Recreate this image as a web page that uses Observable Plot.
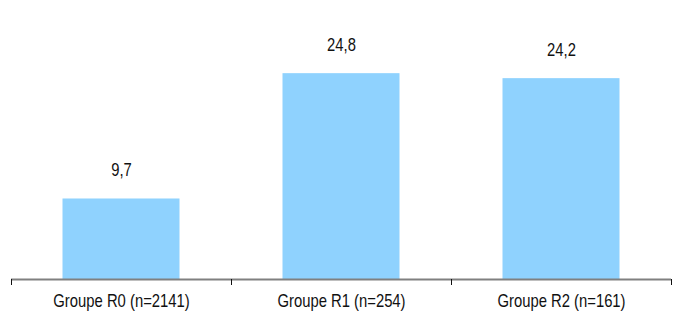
<!DOCTYPE html>
<html>
<head>
<meta charset="utf-8">
<script src="https://cdn.jsdelivr.net/npm/d3@7"></script>
<script src="https://cdn.jsdelivr.net/npm/@observablehq/plot@0.6"></script>
<style>
  html, body { margin: 0; padding: 0; background: #fff; }
  #chart svg { display: block; }
</style>
</head>
<body>
<div id="chart"></div>
<script>
const categories = ["Groupe R0 (n=2141)", "Groupe R1 (n=254)", "Groupe R2 (n=161)"];
const values = [9.7, 24.8, 24.2];
const valueLabels = ["9,7", "24,8", "24,2"];

const data = categories.map((c, i) => ({cat: c, value: values[i], label: valueLabels[i]}));

const W = 678, H = 313;
const mL = 11, mR = 7, mT = 30, mB = 34;
const half = (W - mL - mR) / categories.length / 2;
const barInset = (half * 2 - 117) / 2;
const font = "'Liberation Sans', Arial, sans-serif";

const chart = Plot.plot({
  width: W,
  height: H,
  marginLeft: mL,
  marginRight: mR,
  marginTop: mT,
  marginBottom: mB,
  style: {fontFamily: font, fontSize: "19px", color: "#111", background: "#fff"},
  x: {type: "band", domain: categories, padding: 0, label: null},
  y: {domain: [0, 30], axis: null},
  marks: [
    Plot.barY(data, {x: "cat", y: "value", fill: "#8fd2fe", insetLeft: barInset, insetRight: barInset}),
    Plot.text(data, {x: "cat", y: "value", text: "label", dy: -29, fill: "#111", fontSize: 19}),
    Plot.ruleY([0], {stroke: "#808080", strokeWidth: 2}),
    Plot.axisX({ticks: categories, tickSize: 6, text: null, dx: -half, stroke: "#111", strokeOpacity: 1, label: null}),
    Plot.axisX({ticks: categories.slice(-1), tickSize: 6, text: null, dx: half, stroke: "#111", strokeOpacity: 1, label: null}),
    Plot.axisX({ticks: categories, tickSize: 0, tickPadding: 14, fontSize: 19, fill: "#111", label: null})
  ]
});
document.getElementById("chart").appendChild(chart);

// Narrow the glyphs (Arial Narrow look) by compressing each text horizontally.
chart.querySelectorAll("text").forEach(t => {
  const len = t.getComputedTextLength();
  if (len > 0) {
    t.setAttribute("textLength", (len * 0.78).toFixed(1));
    t.setAttribute("lengthAdjust", "spacingAndGlyphs");
  }
});
</script>
</body>
</html>
